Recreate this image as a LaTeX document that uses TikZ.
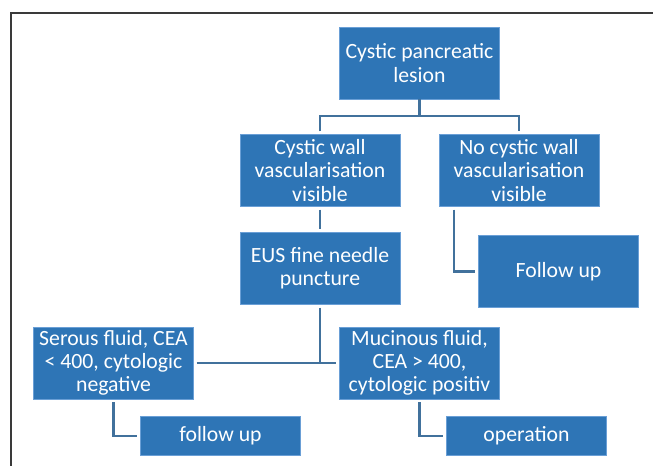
\documentclass[tikz,border=0pt]{standalone}
\usepackage{fontspec}
\setmainfont{Carlito}
\usetikzlibrary{calc}
\definecolor{BoxBlue}{HTML}{2E75B6}
\definecolor{EdgeBlue}{HTML}{6A9FD6}
\definecolor{LinkBlue}{HTML}{41719C}
\definecolor{FrameGray}{HTML}{3A3A3A}

\begin{document}
\begin{tikzpicture}[
  x=0.75pt, y=-0.75pt,
  box/.style={draw=EdgeBlue, line width=0.6pt, fill=BoxBlue, text=white, align=center, inner sep=1pt, minimum width=120pt, minimum height=54pt, font=\fontsize{16.3}{17.4}\selectfont},
  lowbox/.style={box, minimum height=29.5pt},
  link/.style={draw=LinkBlue, line width=1.6pt},
  gap/.style={shorten <=2pt, shorten >=2pt}
]
\useasboundingbox (0,0) rectangle (653,465);

% frame, only top and left sides
\draw[FrameGray, line width=1.2pt] (11,470) -- (11,13) -- (660,13);

\node[box] (lesion) at (419.5,63) {Cystic pancreatic\\lesion};
\node[box] (wallvis) at (320,170.5) {Cystic wall\\vascularisation\\visible};
\node[box] (nowallvis) at (519,170.5) {No cystic wall\\vascularisation\\visible};
\node[box] (eus) at (320,268.5) {EUS fine needle\\puncture};
\node[box] (followA) at (558.5,271.5) {Follow up};

\node[box] (serous) at (113.5,363) {Serous fluid, CEA\\< 400, cytologic\\negative};
\node[box] (mucinous) at (419.5,363) {Mucinous fluid,\\CEA > 400,\\cytologic positiv};
\node[lowbox] (followB) at (220.5,436) {follow up};
\node[lowbox] (operation) at (526.5,436) {operation};

\coordinate (fork) at (419.5,116);
\draw[link] (lesion.south) -- (fork);
\draw[link, gap] (wallvis.north) |- (fork) -| (nowallvis.north);
\draw[link, gap] (wallvis.south) -- (eus.north);
\draw[link, gap] ($(nowallvis.south west)+(15,0)$) |- (followA.west);

\draw[link, gap] (serous) -- (mucinous);
\draw[link, shorten <=2pt] (eus.south) -- (eus.south |- serous.east);
\draw[link, gap] (serous.south) |- (followB.west);
\draw[link, gap] (mucinous.south) |- (operation.west);

\end{tikzpicture}
\end{document}
